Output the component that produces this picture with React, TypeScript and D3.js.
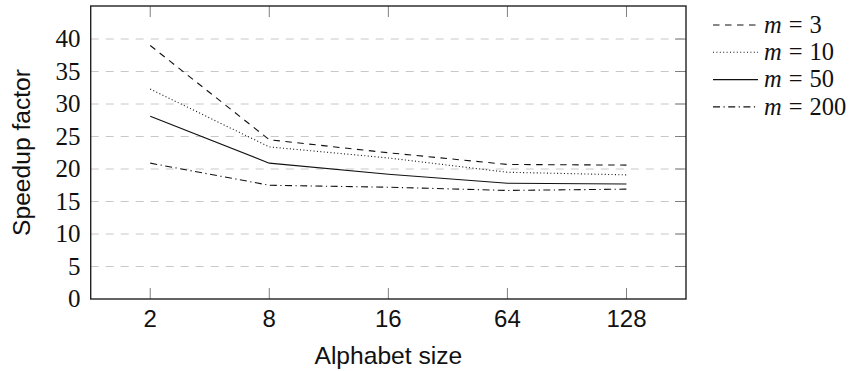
import React, { useRef, useEffect } from 'react';
import * as d3 from 'd3';

const alphabetSizes = ['2', '8', '16', '64', '128'];
const speedupM3 = [39.0, 24.5, 22.5, 20.7, 20.6];
const speedupM10 = [32.3, 23.4, 21.7, 19.5, 19.1];
const speedupM50 = [28.1, 20.9, 19.2, 17.8, 17.7];
const speedupM200 = [20.9, 17.5, 17.2, 16.7, 16.9];
const yTickValues = [0, 5, 10, 15, 20, 25, 30, 35, 40];
const legendLabels = ['3', '10', '50', '200'];

const serif = '"Liberation Serif", "DejaVu Serif", serif';
const sans = '"Liberation Sans", Arial, sans-serif';

const App = () => {
  const svgRef = useRef<SVGSVGElement>(null);

  useEffect(() => {
    const svg = d3.select(svgRef.current);
    svg.selectAll('*').remove();

    const width = 851;
    const height = 371;
    const box = { left: 90.7, right: 686, top: 6, bottom: 299 };

    svg.attr('width', width).attr('height', height);

    const x = d3.scalePoint<string>().domain(alphabetSizes).range([box.left, box.right]).padding(0.5);
    const y = d3.scaleLinear().domain([0, 45.08]).range([box.bottom, box.top]);

    // grid
    svg.append('g')
      .selectAll('line')
      .data(yTickValues.slice(1))
      .enter().append('line')
      .attr('x1', box.left)
      .attr('x2', box.right)
      .attr('y1', (d) => y(d))
      .attr('y2', (d) => y(d))
      .attr('stroke', '#c8c8c8')
      .attr('stroke-width', 1)
      .attr('stroke-dasharray', '8,7');

    // tick marks
    const ticks = svg.append('g').attr('stroke', '#808080').attr('stroke-width', 1);
    alphabetSizes.forEach((s) => {
      ticks.append('line').attr('x1', x(s)!).attr('x2', x(s)!).attr('y1', box.bottom).attr('y2', box.bottom - 11);
      ticks.append('line').attr('x1', x(s)!).attr('x2', x(s)!).attr('y1', box.top).attr('y2', box.top + 11);
    });
    yTickValues.slice(1).forEach((v) => {
      ticks.append('line').attr('x1', box.right).attr('x2', box.right - 11).attr('y1', y(v)).attr('y2', y(v));
    });

    // series
    const series = [
      { values: speedupM3, dash: '6.5,5.5' },
      { values: speedupM10, dash: '1,2.4' },
      { values: speedupM50, dash: null },
      { values: speedupM200, dash: '7,3.5,1.2,3.5' },
    ];
    const line = d3.line<number>()
      .x((_, i) => x(alphabetSizes[i])!)
      .y((d) => y(d));

    series.forEach((s) => {
      svg.append('path')
        .datum(s.values)
        .attr('d', line)
        .attr('fill', 'none')
        .attr('stroke', '#111')
        .attr('stroke-width', 1.1)
        .attr('stroke-dasharray', s.dash);
    });

    // axis box
    svg.append('rect')
      .attr('x', box.left)
      .attr('y', box.top)
      .attr('width', box.right - box.left)
      .attr('height', box.bottom - box.top)
      .attr('fill', 'none')
      .attr('stroke', '#222')
      .attr('stroke-width', 1.4);

    // y tick labels
    svg.append('g')
      .selectAll('text')
      .data(yTickValues)
      .enter().append('text')
      .attr('x', 80.5)
      .attr('y', (d) => y(d))
      .attr('dy', '0.33em')
      .attr('text-anchor', 'end')
      .attr('font-family', serif)
      .attr('font-size', 25)
      .attr('fill', '#111')
      .text((d) => d);

    // x tick labels
    svg.append('g')
      .selectAll('text')
      .data(alphabetSizes)
      .enter().append('text')
      .attr('x', (d) => x(d)!)
      .attr('y', 327)
      .attr('text-anchor', 'middle')
      .attr('font-family', sans)
      .attr('font-size', 24)
      .attr('fill', '#111')
      .text((d) => d);

    // axis labels
    svg.append('text')
      .attr('x', (box.left + box.right) / 2)
      .attr('y', 364)
      .attr('text-anchor', 'middle')
      .attr('font-family', sans)
      .attr('font-size', 24.6)
      .attr('fill', '#111')
      .text('Alphabet size');

    svg.append('text')
      .attr('transform', `translate(30,${(box.top + box.bottom) / 2}) rotate(-90)`)
      .attr('text-anchor', 'middle')
      .attr('font-family', sans)
      .attr('font-size', 24.6)
      .attr('fill', '#111')
      .text('Speedup factor');

    // legend
    const legend = svg.append('g');
    series.forEach((s, i) => {
      const ly = 25 + i * 27.3;
      legend.append('line')
        .attr('x1', 713)
        .attr('x2', 758)
        .attr('y1', ly)
        .attr('y2', ly)
        .attr('stroke', '#111')
        .attr('stroke-width', 1.1)
        .attr('stroke-dasharray', s.dash);
      const t = legend.append('text')
        .attr('x', 764)
        .attr('y', ly)
        .attr('dy', '0.32em')
        .attr('font-family', serif)
        .attr('font-size', 24.5)
        .attr('fill', '#111');
      t.append('tspan').attr('font-style', 'italic').text('m');
      t.append('tspan').attr('dx', 7).text('=');
      t.append('tspan').attr('dx', 7).text(legendLabels[i]);
    });
  }, []);

  return (
    <div style={{ position: 'absolute', left: 0, top: 0, width: 851, height: 371, background: '#fff' }}>
      <svg ref={svgRef} style={{ display: 'block' }}></svg>
    </div>
  );
};

export default App;
